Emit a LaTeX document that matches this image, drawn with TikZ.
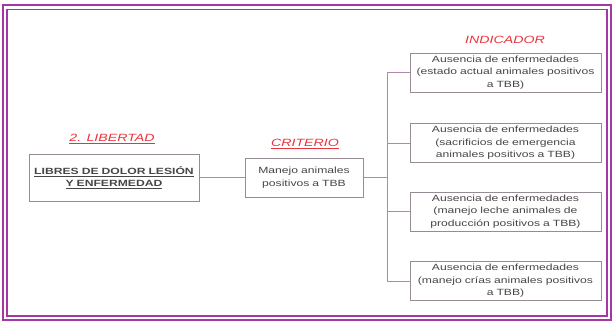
\documentclass[tikz,border=0pt]{standalone}
\usepackage{fontspec}
\setmainfont{Liberation Sans}
\newfontfamily\boxfont[FakeStretch=1.35]{Liberation Sans}
\usepackage{tikz}
\definecolor{framepurple}{RGB}{165, 55, 165}
\definecolor{linkpurple}{RGB}{175, 135, 175}
\definecolor{boxgray}{RGB}{150, 140, 150}
\definecolor{labelred}{RGB}{235, 50, 60}
\definecolor{textgray}{RGB}{70, 70, 70}

\begin{document}
\begin{tikzpicture}[
  x=1pt, y=-1pt,
  link/.style={draw=linkpurple, line width=0.9pt},
]
\useasboundingbox (0,0) rectangle (614,322);
% Frame
\draw[framepurple, line width=1.6pt] (3,5) rectangle (611,320);
\draw[framepurple, line width=1.2pt] (7,9.5) rectangle (607,316);

% Column headers
\node[font=\boxfont\fontsize{10.5}{12}\selectfont\itshape, text=labelred] (libh) at (112, 139) {\underline{2. LIBERTAD}};
\node[font=\boxfont\fontsize{10.5}{12}\selectfont\itshape, text=labelred] (crith) at (305, 144) {\underline{CRITERIO}};
\node[font=\boxfont\fontsize{10.5}{12}\selectfont\itshape, text=labelred] (indh) at (505, 40) {INDICADOR};

% Libertad
\node[draw=boxgray, line width=0.8pt, inner sep=2pt, text width=166pt, minimum height=47pt, align=center, font=\boxfont\fontsize{9}{12}\selectfont\bfseries, text=textgray] (lib) at (114, 177.5) {\underline{LIBRES DE DOLOR LESIÓN}\\\underline{Y ENFERMEDAD}};

% Criterio
\node[draw=boxgray, line width=0.8pt, inner sep=2pt, text width=114pt, minimum height=39pt, align=center, font=\boxfont\fontsize{9}{12.5}\selectfont, text=textgray] (crit) at (304, 177.5) {Manejo animales\\positivos a TBB};

% Indicadores
\node[draw=boxgray, line width=0.8pt, inner sep=2pt, text width=187pt, minimum height=39pt, align=center, font=\boxfont\fontsize{9}{12.5}\selectfont, text=textgray] (ind1) at (505.5, 72.5) {Ausencia de enfermedades\\(estado actual animales positivos\\a TBB)};
\node[draw=boxgray, line width=0.8pt, inner sep=2pt, text width=187pt, minimum height=39pt, align=center, font=\boxfont\fontsize{9}{12.5}\selectfont, text=textgray] (ind2) at (505.5, 143) {Ausencia de enfermedades\\(sacrificios de emergencia\\animales positivos a TBB)};
\node[draw=boxgray, line width=0.8pt, inner sep=2pt, text width=187pt, minimum height=39pt, align=center, font=\boxfont\fontsize{9}{12.5}\selectfont, text=textgray] (ind3) at (505.5, 211.5) {Ausencia de enfermedades\\(manejo leche animales de\\producción positivos a TBB)};
\node[draw=boxgray, line width=0.8pt, inner sep=2pt, text width=187pt, minimum height=39pt, align=center, font=\boxfont\fontsize{9}{12.5}\selectfont, text=textgray] (ind4) at (505.5, 281) {Ausencia de enfermedades\\(manejo crías animales positivos\\a TBB)};

% Connectors
\coordinate (fork) at (387, 177.5);
\draw[link] (lib.east) -- (crit.west);
\draw[link, line width=1.5pt] (crit.east) -- (fork);
\draw[link] (fork) |- (ind1.west);
\draw[link] (fork) |- (ind2.west);
\draw[link] (fork) |- (ind3.west);
\draw[link] (fork) |- (ind4.west);
\end{tikzpicture}
\end{document}
